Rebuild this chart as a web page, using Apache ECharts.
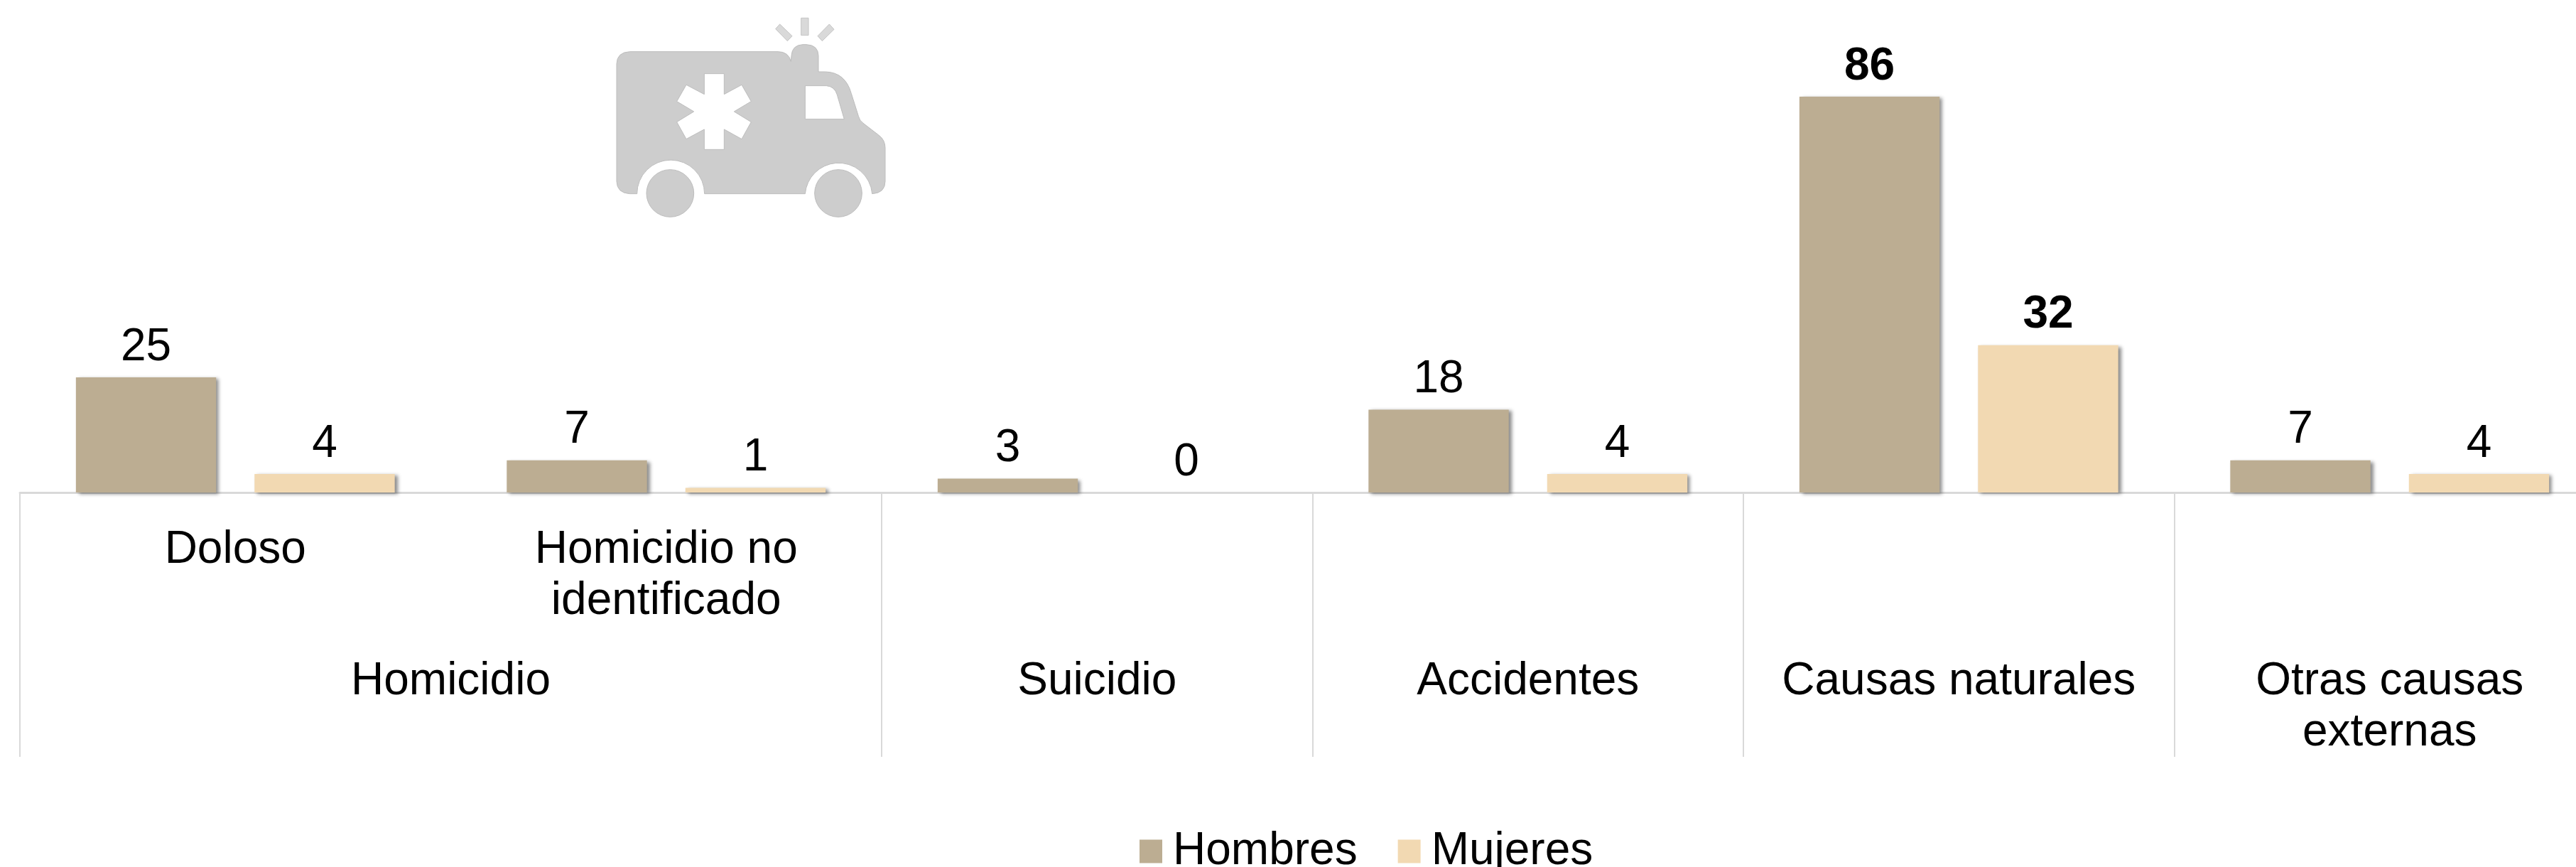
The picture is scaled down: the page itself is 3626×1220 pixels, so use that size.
<!DOCTYPE html>
<html>
<head>
<meta charset="utf-8">
<style>html,body{margin:0;padding:0;background:#fff}#c{width:3626px;height:1220px}</style>
<script src="https://cdn.jsdelivr.net/npm/echarts@6/dist/echarts.min.js"></script>
</head>
<body>
<div id="c"></div>
<script>
const subLabels = ['Doloso', 'Homicidio no\nidentificado', '', '', '', ''];
const groupLabels = ['Homicidio', 'Suicidio', 'Accidentes', 'Causas naturales', 'Otras causas\nexternas'];
const groupCentres = [1, 2.5, 3.5, 4.5, 5.5];
const groupEdges = [0, 2, 3, 4, 5, 6];
const hombres = [25, 7, 3, 18, 86, 7];
const mujeres = [4, 1, 0, 4, 32, 4];
const boldIndex = 4;

const font = '"Liberation Sans", Arial, sans-serif';
const toData = arr => arr.map((v, i) => i === boldIndex
  ? { value: v, label: { fontWeight: 'bold' } } : v);
const barStyle = c => ({ color: c, shadowColor: 'rgba(0,0,0,0.45)', shadowBlur: 5, shadowOffsetX: 4, shadowOffsetY: 2 });
const barSeries = (name, color, values) => ({
  name, type: 'bar', data: toData(values), xAxisIndex: 0,
  barGap: '27.4%', barCategoryGap: '26%',
  itemStyle: barStyle(color),
  label: { show: true, position: 'top', distance: 10, color: '#000', fontFamily: font, fontSize: 64 }
});

const iconBody = 'M260 218 L885 218 Q930 218 940 260 L942 235 Q945 190 990 188 L1005 188 Q1055 190 1056 235 L1056 303 L1085 303 Q1170 305 1195 395 L1225 490 Q1230 510 1245 520 L1310 570 Q1338 590 1338 625 L1338 765 Q1338 815 1283 818 A142 142 0 0 0 1000 818 L575 818 A142 142 0 0 0 290 818 L260 818 Q205 815 204 765 L204 270 Q205 220 260 218 Z ' +
  'M1000 362 L1000 503 L1165 503 L1135 400 Q1125 365 1090 362 Z ' +
  'M574 311 L574 398 L498 358 L458 428 L530 471 L458 515 L498 587 L574 546 L574 631 L658 631 L658 546 L732 587 L772 515 L700 471 L772 428 L732 358 L658 398 L658 311 Z';
const iconRays = 'M983 76 L1014 76 L1014 149 L983 149 Z M893 102 L945 152 L925 173 L875 122 Z M1102 102 L1122 124 L1072 173 L1053 152 Z';
const px = v => v / 3;
const wheel = cx => ({
  type: 'circle', shape: { cx: 800 + px(cx), cy: px(816), r: px(100) },
  style: { fill: '#cdcdcd', stroke: '#bdbdbd', lineWidth: 1 }
});
const renderIcon = () => ({
  type: 'group',
  children: [
    { type: 'path', shape: { pathData: iconBody, layout: 'cover', x: 800 + px(204), y: px(188), width: px(1134), height: px(630) },
      style: { fill: '#cdcdcd', stroke: '#bdbdbd', lineWidth: 1 } },
    { type: 'path', shape: { pathData: iconRays, layout: 'cover', x: 800 + px(875), y: px(76), width: px(247), height: px(97) },
      style: { fill: '#d9d9d9', stroke: '#c4c4c4', lineWidth: 1 } },
    wheel(430), wheel(1140)
  ]
});

const chart = echarts.init(document.getElementById('c'), null, { renderer: 'canvas' });
chart.setOption({
  animation: false,
  backgroundColor: '#fff',
  grid: { left: 28, width: 3639, top: 13, height: 680, containLabel: false, outerBoundsMode: 'none' },
  legend: {
    left: 1599, top: 1161, itemWidth: 32, itemHeight: 33, itemGap: 57,
    icon: 'rect', data: ['Hombres', 'Mujeres'],
    itemStyle: { shadowBlur: 0, shadowOffsetX: 0, shadowOffsetY: 0, shadowColor: 'transparent' },
    textStyle: { fontFamily: font, fontSize: 64, color: '#000', padding: [0, 0, 0, 10] }
  },
  xAxis: [
    {
      type: 'category', data: subLabels, position: 'bottom',
      axisLine: { show: true, lineStyle: { color: '#d9d9d9', width: 3 } },
      axisTick: { show: false },
      axisLabel: { show: true, interval: 0, margin: 45, fontFamily: font, fontSize: 64, lineHeight: 72, color: '#000', verticalAlign: 'top' }
    },
    {
      type: 'value', min: 0, max: 6, position: 'bottom', splitLine: { show: false },
      axisLine: { show: false },
      axisTick: { show: true, length: 372, customValues: groupEdges, lineStyle: { color: '#d9d9d9', width: 2 } },
      axisLabel: {
        show: true, customValues: groupCentres, margin: 230, fontFamily: font, fontSize: 64, lineHeight: 72,
        color: '#000', verticalAlign: 'top', align: 'center', hideOverlap: false,
        formatter: v => groupLabels[groupCentres.indexOf(v)] || ''
      }
    }
  ],
  yAxis: { type: 'value', min: 0, max: 105, show: false, splitLine: { show: false } },
  series: [
    barSeries('Hombres', '#BCAD92', hombres),
    barSeries('Mujeres', '#F2D9B2', mujeres),
    { type: 'custom', coordinateSystem: 'none', silent: true, data: [[0]], renderItem: renderIcon }
  ]
});
</script>
</body>
</html>
